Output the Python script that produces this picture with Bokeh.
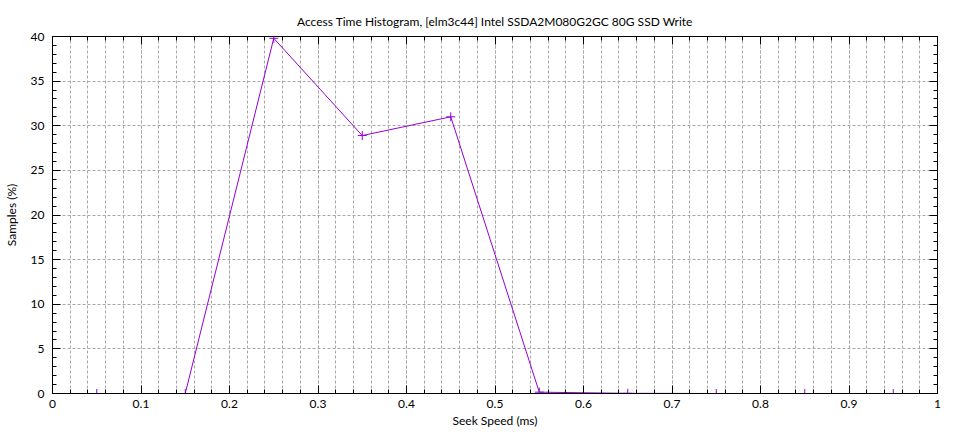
from bokeh.plotting import figure
from bokeh.models import LinearAxis, SingleIntervalTicker, Range1d
from bokeh.embed import file_html
from bokeh.resources import INLINE

# data
seek_ms = [0.05, 0.15, 0.25, 0.35, 0.45, 0.55, 0.65, 0.75, 0.85, 0.95]
samples_pct = [0.0, 0.0, 39.8, 28.9, 31.0, 0.15, 0.02, 0.0, 0.0, 0.0]

title_text = "Access Time Histogram, [elm3c44] Intel SSDA2M080G2GC 80G SSD Write"
x_label = "Seek Speed (ms)"
y_label = "Samples (%)"

FONT = "Lato"
COLOR = "#9400d3"

p = figure(width=950, height=430, output_backend="svg", toolbar_location=None,
           x_range=Range1d(0, 1), y_range=Range1d(0, 40),
           min_border_left=48, min_border_right=13, min_border_top=36, min_border_bottom=37)
p.title.text = title_text
p.title.align = "center"
p.title.text_font = FONT
p.title.text_font_size = "12px"
p.title.text_font_style = "normal"
p.title.text_color = "#000000"
p.title.standoff = 16
p.outline_line_color = "black"
p.outline_line_width = 1

xt = SingleIntervalTicker(interval=0.1, num_minor_ticks=5)
yt = SingleIntervalTicker(interval=5, num_minor_ticks=5)

p.xaxis.ticker = xt
p.yaxis.ticker = yt
p.xaxis.axis_label = x_label
p.yaxis.axis_label = y_label

for ax in (p.xaxis, p.yaxis):
    ax.major_tick_in = 8
    ax.major_tick_out = 0
    ax.minor_tick_in = 4
    ax.minor_tick_out = 0
    ax.axis_line_color = "black"
    ax.major_tick_line_color = "black"
    ax.minor_tick_line_color = "black"
    ax.major_label_text_font = FONT
    ax.major_label_text_font_size = "12px"
    ax.major_label_text_color = "#000000"
    ax.axis_label_text_font = FONT
    ax.axis_label_text_font_size = "12px"
    ax.axis_label_text_font_style = "normal"
    ax.axis_label_text_color = "#000000"

p.xaxis.major_label_standoff = 6
p.xaxis.axis_label_standoff = 2
p.yaxis.major_label_standoff = 8
p.yaxis.axis_label_standoff = 9

p.xaxis.major_label_overrides = {0: "0", 1: "1"}

# mirror axes (ticks only)
top = LinearAxis(ticker=SingleIntervalTicker(interval=0.1, num_minor_ticks=5))
right = LinearAxis(ticker=SingleIntervalTicker(interval=5, num_minor_ticks=5))
for ax in (top, right):
    ax.major_tick_in = 8
    ax.major_tick_out = 0
    ax.minor_tick_in = 4
    ax.minor_tick_out = 0
    ax.major_label_text_color = None
    ax.major_label_text_font_size = "1px"
    ax.major_label_standoff = 0
    ax.axis_line_color = "black"
    ax.major_tick_line_color = "black"
    ax.minor_tick_line_color = "black"
p.add_layout(top, "above")
p.add_layout(right, "right")

p.xgrid.grid_line_color = "#a8a8a8"
p.xgrid.grid_line_dash = "3 2"
p.xgrid.minor_grid_line_color = "#a8a8a8"
p.xgrid.minor_grid_line_dash = "3 2"
p.ygrid.grid_line_color = "#a8a8a8"
p.ygrid.grid_line_dash = "3 2"

p.line(seek_ms, samples_pct, line_color=COLOR, line_width=1)
p.scatter(seek_ms, samples_pct, marker="cross", size=9, line_color=COLOR, line_width=1)

open("out.html", "w").write(file_html(p, INLINE))
